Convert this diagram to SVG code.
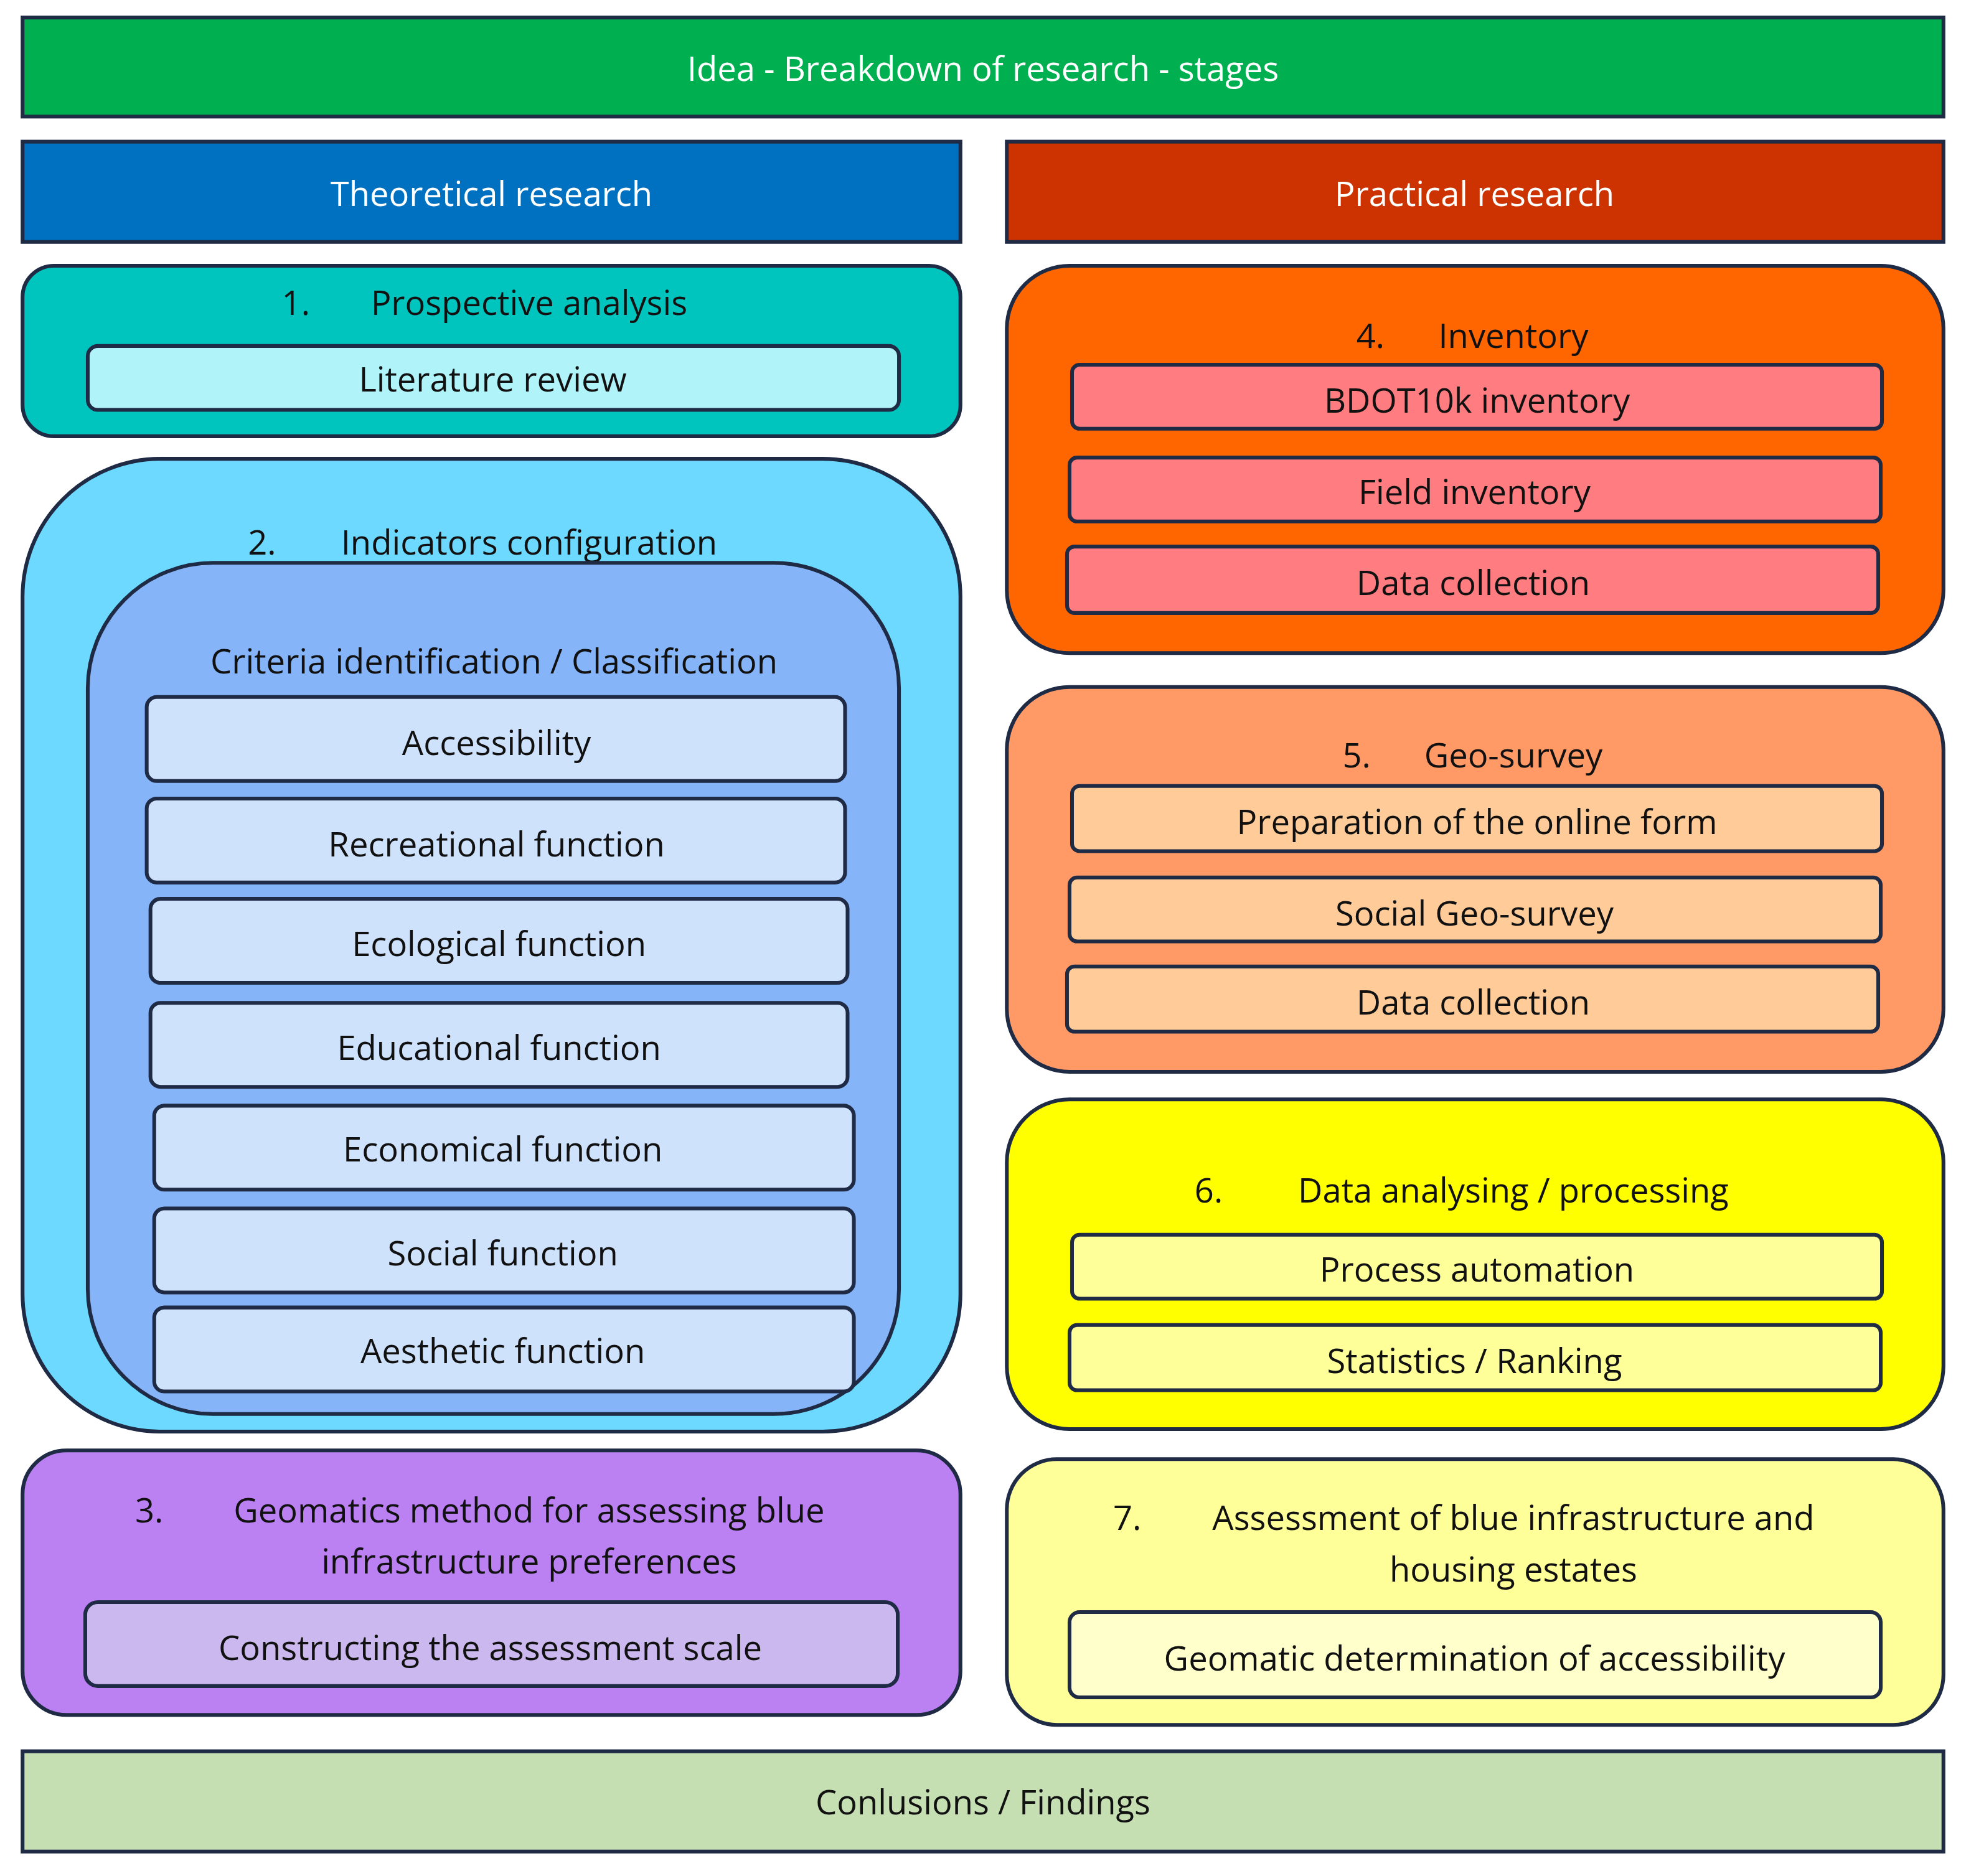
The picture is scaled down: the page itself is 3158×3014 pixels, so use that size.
<svg xmlns="http://www.w3.org/2000/svg" width="3158" height="3014" viewBox="0 0 3158 3014">
<style>
rect{stroke:#1F2A44;stroke-width:3}
text{font-family:"Open Sans","Liberation Sans",sans-serif;font-size:27px;fill:#111;text-anchor:middle;dominant-baseline:central}
.w{fill:#fff}
</style>
<rect x="0" y="0" width="3158" height="3014" fill="#fff" style="stroke:none"/>
<g transform="scale(2.01403)">
<g id="idea"><rect x="18" y="14" width="1532" height="79" fill="#00B050"/><text class="w" x="784" y="54">Idea -  Breakdown of research - stages</text></g>
<g id="theoretical"><rect x="18" y="113" width="748" height="80" fill="#0070C0"/><text class="w" x="392" y="154">Theoretical research</text></g>
<g id="practical"><rect x="803" y="113" width="747" height="80" fill="#CC3300"/><text class="w" x="1176" y="154">Practical research</text></g>

<g id="stage1"><rect x="18" y="212" width="748" height="136" rx="25" fill="#00C4BE"/>
<text x="236" y="241">1.</text><text x="422" y="241">Prospective analysis</text>
<rect x="70" y="276" width="647" height="51" rx="8" fill="#B0F4FA"/><text x="393" y="302">Literature review</text></g>

<g id="stage2"><rect x="18" y="366" width="748" height="776" rx="110" fill="#6DD9FF"/>
<text x="209" y="432">2.</text><text x="422" y="432">Indicators configuration</text>
<rect x="70" y="449" width="647" height="679" rx="100" fill="#86B4F8"/>
<text x="394" y="527">Criteria identification / Classification</text>
<g fill="#CFE2FC">
<rect x="117" y="556" width="557" height="67" rx="8"/><text x="396" y="592">Accessibility</text>
<rect x="117" y="637" width="557" height="67" rx="8"/><text x="396" y="673">Recreational function</text>
<rect x="120" y="717" width="556" height="67" rx="8"/><text x="398" y="752">Ecological function</text>
<rect x="120" y="800" width="556" height="67" rx="8"/><text x="398" y="835">Educational function</text>
<rect x="123" y="882" width="558" height="67" rx="8"/><text x="401" y="916">Economical function</text>
<rect x="123" y="964" width="558" height="67" rx="8"/><text x="401" y="999">Social function</text>
<rect x="123" y="1043" width="558" height="67" rx="8"/><text x="401" y="1077">Aesthetic function</text>
</g></g>

<g id="stage3"><rect x="18" y="1157" width="748" height="211" rx="35" fill="#BB80F2"/>
<text x="119" y="1204">3.</text><text x="422" y="1204">Geomatics method for assessing blue</text>
<text x="422" y="1245">infrastructure preferences</text>
<rect x="68" y="1278" width="648" height="67" rx="10" fill="#CBB8EE"/><text x="391" y="1314">Constructing the assessment scale</text></g>

<g id="stage4"><rect x="803" y="212" width="747" height="309" rx="50" fill="#FF6600"/>
<text x="1093" y="267">4.</text><text x="1207" y="267">Inventory</text>
<g fill="#FF7C80">
<rect x="855" y="291" width="646" height="51" rx="6"/><text x="1178" y="319">BDOT10k inventory</text>
<rect x="853" y="365" width="647" height="51" rx="6"/><text x="1176" y="392">Field inventory</text>
<rect x="851" y="436" width="647" height="53" rx="6"/><text x="1175" y="464">Data collection</text>
</g></g>

<g id="stage5"><rect x="803" y="548" width="747" height="307" rx="50" fill="#FF9966"/>
<text x="1082" y="602">5.</text><text x="1207" y="602">Geo-survey</text>
<g fill="#FFCC99">
<rect x="855" y="627" width="646" height="52" rx="6"/><text x="1178" y="655">Preparation of the online form</text>
<rect x="853" y="700" width="647" height="51" rx="6"/><text x="1176" y="728">Social Geo-survey</text>
<rect x="851" y="771" width="647" height="52" rx="6"/><text x="1175" y="799">Data collection</text>
</g></g>

<g id="stage6"><rect x="803" y="877" width="747" height="263" rx="50" fill="#FFFF00"/>
<text x="964" y="949">6.</text><text x="1207" y="949">Data  analysing  / processing</text>
<g fill="#FFFF99">
<rect x="855" y="985" width="646" height="51" rx="6"/><text x="1178" y="1012">Process automation</text>
<rect x="853" y="1057" width="647" height="52" rx="6"/><text x="1176" y="1085">Statistics / Ranking</text>
</g></g>

<g id="stage7"><rect x="803" y="1164" width="747" height="212" rx="40" fill="#FFFF99"/>
<text x="899" y="1210">7.</text><text x="1207" y="1210">Assessment of blue infrastructure and</text>
<text x="1207" y="1251">housing estates</text>
<rect x="853" y="1286" width="647" height="68" rx="8" fill="#FFFFCC"/><text x="1176" y="1322">Geomatic determination of accessibility</text></g>

<g id="conclusions"><rect x="18" y="1397" width="1532" height="80" fill="#C5DFB3"/><text x="784" y="1437">Conlusions / Findings</text></g>
<g id="connectors"></g>
</g>
</svg>
